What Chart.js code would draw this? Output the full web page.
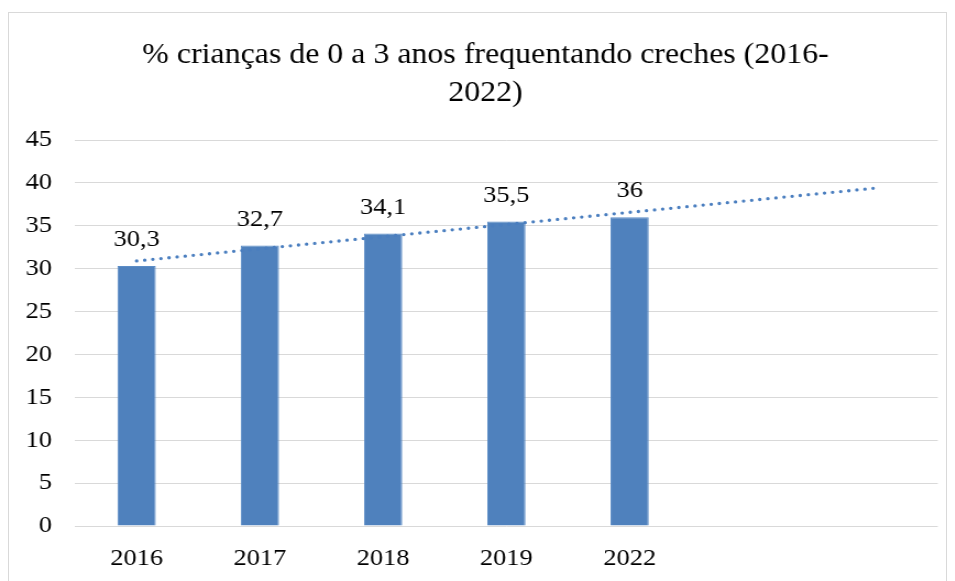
<!DOCTYPE html>
<html>
<head>
<meta charset="utf-8">
<script src="https://cdn.jsdelivr.net/npm/chart.js@4/dist/chart.umd.min.js"></script>
<style>
  html, body { margin: 0; padding: 0; background: #fff; }
  #wrap { position: relative; width: 955px; height: 581px; overflow: hidden; }
  #frame { position: absolute; left: 8px; top: 12px; width: 939px; height: 600px; border: 1px solid #d9d9d9; box-sizing: border-box; }
  canvas { position: absolute; left: 0; top: 0; transform: scaleX(1.1); transform-origin: 0 0; }
</style>
</head>
<body>
<div id="wrap">
  <div id="frame"></div>
  <canvas id="c" width="868" height="581"></canvas>
</div>
<script>
// Data
const categories = ['2016', '2017', '2018', '2019', '2022', '', ''];
const values = [30.3, 32.7, 34.1, 35.5, 36, null, null];
// Linear trendline (forecast 2 periods forward), endpoints
const trendValues = [30.9, null, null, null, null, null, 39.4];
const yTicks = [0, 5, 10, 15, 20, 25, 30, 35, 40, 45];
const titleLines = ['% crianças de 0 a 3 anos frequentando creches (2016-', '2022)'];

const FONT = "'Liberation Serif', 'Times New Roman', serif";

const titlePlugin = {
  id: 'offsetTitle',
  afterDraw(chart) {
    const ctx = chart.ctx;
    ctx.save();
    ctx.font = '29px ' + FONT;
    ctx.fillStyle = '#000';
    ctx.textAlign = 'center';
    ctx.textBaseline = 'middle';
    const cx = 485.5 / 1.1;
    titleLines.forEach((line, i) => ctx.fillText(line, cx, 55 + i * 38));
    ctx.restore();
  }
};

const labelPlugin = {
  id: 'barLabels',
  afterDatasetsDraw(chart) {
    const ctx = chart.ctx;
    const meta = chart.getDatasetMeta(0);
    ctx.save();
    ctx.font = '24px ' + FONT;
    ctx.fillStyle = '#000';
    ctx.textAlign = 'center';
    ctx.textBaseline = 'middle';
    meta.data.forEach((bar, i) => {
      const v = values[i];
      if (v === null || v === undefined) return;
      const txt = String(v).replace('.', ',');
      ctx.fillText(txt, bar.x, bar.y - 26);
    });
    ctx.restore();
  }
};

new Chart(document.getElementById('c'), {
  type: 'bar',
  data: {
    labels: categories,
    datasets: [
      {
        type: 'bar',
        data: values,
        backgroundColor: '#4F81BD',
        borderColor: '#5b8cc6',
        borderWidth: 1,
        categoryPercentage: 1,
        barPercentage: 0.31,
        order: 2
      },
      {
        type: 'line',
        data: trendValues,
        spanGaps: true,
        borderColor: '#4a7ebf',
        borderWidth: 3.3,
        borderDash: [0, 7.4],
        borderCapStyle: 'round',
        pointRadius: 0,
        fill: false,
        order: 1
      }
    ]
  },
  options: {
    responsive: false,
    animation: false,
    devicePixelRatio: 1,
    layout: { padding: { left: 0, right: 15.5, top: 140, bottom: 0 } },
    plugins: {
      legend: { display: false },
      tooltip: { enabled: false },
      title: { display: false }
    },
    scales: {
      x: {
        grid: { display: false },
        border: { display: false },
        ticks: { color: '#000', font: { family: FONT, size: 24 }, padding: 10, maxRotation: 0, autoSkip: false },
        afterFit(s) { s.height = 55; }
      },
      y: {
        min: 0, max: 45,
        afterBuildTicks(s) { s.ticks = yTicks.map(v => ({ value: v })); },
        grid: { color: '#d9d9d9', lineWidth: 1, drawTicks: false },
        border: { display: false },
        ticks: { color: '#000', font: { family: FONT, size: 24 }, padding: 21 },
        afterFit(s) { s.width = 68.2; }
      }
    }
  },
  plugins: [labelPlugin, titlePlugin]
});
</script>
</body>
</html>
